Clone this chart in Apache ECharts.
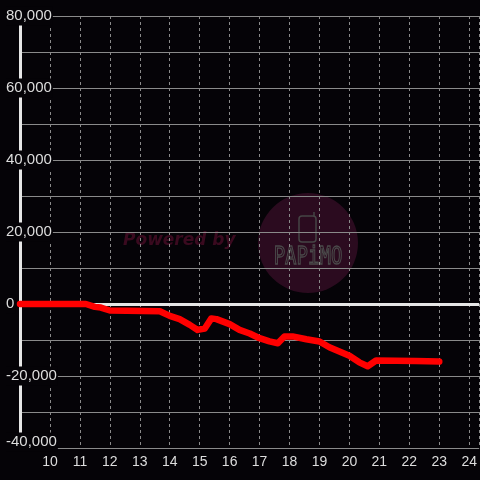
<!DOCTYPE html>
<html>
<head>
<meta charset="utf-8">
<script src="https://cdn.jsdelivr.net/npm/echarts@6/dist/echarts.min.js"></script>
<style>
  html, body { margin: 0; padding: 0; background: #050307; }
  #chart { width: 480px; height: 480px; }
</style>
</head>
<body>
<div id="chart"></div>
<script>
// hours of day and running balance
const hours = [9, 11.2, 11.5, 11.7, 12, 13.67, 14, 14.33, 14.67, 14.93, 15.17, 15.39, 15.56, 16, 16.33, 16.67,
  17, 17.33, 17.61, 17.83, 18.1, 18.56, 19, 19.33, 20, 20.33, 20.61, 20.89, 22.22, 23];
const balance = [0, 0, -800, -1000, -1800, -2000, -3300, -4200, -5800, -7200, -6800, -4000, -4200, -5600, -7200, -8200,
  -9500, -10400, -10900, -9000, -9000, -9800, -10400, -12000, -14400, -16200, -17300, -15700, -15800, -16000];

const xMin = 9;
const xMax = 24.333;
const yMin = -40000;
const yMax = 80000;

const chart = echarts.init(document.getElementById('chart'));
const data = hours.map((h, i) => [h, balance[i]]);
const labelColor = '#dddddd';
const gridColor = '#8a8a8a';
const bg = '#050307';

chart.setOption({
  backgroundColor: bg,
  animation: false,
  grid: { left: 20, right: 0, top: 16, bottom: 32 },
  graphic: [
    { type: 'circle', z: -10, shape: { cx: 308, cy: 243, r: 50 }, style: { fill: '#2b0b1f' } },
    {
      type: 'text', z: -9, x: 123, y: 241,
      style: { text: 'Powered by', font: 'italic bold 17px "DejaVu Sans"', fill: '#3a0a1f', verticalAlign: 'middle' }
    },
    {
      type: 'rect', z: -9, shape: { x: 299, y: 216, width: 17, height: 26, r: 3 },
      style: { fill: 'none', stroke: '#454545', lineWidth: 1.5 }
    },
    { type: 'line', z: -9, shape: { x1: 314, y1: 216, x2: 314, y2: 212 }, style: { stroke: '#454545', lineWidth: 1.5 } },
    {
      type: 'text', z: -9, x: 308, y: 258, scaleY: 1.3,
      style: {
        text: 'PAPiMO', font: '19px "DejaVu Sans Mono"', fill: 'none', stroke: '#4a4a4a', lineWidth: 1,
        align: 'center', verticalAlign: 'middle'
      }
    }
  ],
  xAxis: {
    type: 'value',
    min: xMin,
    max: xMax,
    interval: 1,
    axisLine: { show: false },
    axisTick: { show: false },
    axisLabel: {
      color: labelColor, fontSize: 14, fontFamily: 'Liberation Sans, Arial, sans-serif',
      margin: 7, showMinLabel: false, showMaxLabel: false
    },
    splitLine: { show: true, lineStyle: { color: gridColor, type: [3, 3], width: 1 } }
  },
  yAxis: {
    type: 'value',
    min: yMin,
    max: yMax,
    interval: 20000,
    axisLine: { show: true, onZero: false, lineStyle: { color: '#e6e6e6', width: 3 } },
    axisTick: { show: false },
    axisLabel: {
      color: labelColor, fontSize: 15, fontFamily: 'Liberation Sans, Arial, sans-serif',
      align: 'left', margin: 14,
      // bottom label sits a little higher so it stays clear of the hour labels
      formatter: v => v === yMin
        ? '{n|' + v.toLocaleString('en-US') + '}\n{sp| }'
        : '{n|' + v.toLocaleString('en-US') + '}',
      rich: {
        n: { backgroundColor: bg, padding: [2, 1, 2, 0], fontSize: 15, color: labelColor },
        sp: { height: 12, fontSize: 1 }
      }
    },
    splitLine: { show: true, lineStyle: { color: gridColor, width: 1 } },
    minorTick: { show: false, splitNumber: 2 },
    minorSplitLine: { show: true, lineStyle: { color: gridColor, width: 1 } }
  },
  series: [{
    type: 'line',
    data,
    symbol: 'none',
    smooth: false,
    z: 3,
    lineStyle: { color: '#ff0000', width: 6.5, join: 'round', cap: 'round' },
    markLine: {
      silent: true,
      z: 1,
      symbol: 'none',
      label: { show: false },
      lineStyle: { color: '#e6e6e6', width: 3, type: 'solid' },
      data: [{ yAxis: 0 }]
    }
  }]
});
</script>
</body>
</html>
